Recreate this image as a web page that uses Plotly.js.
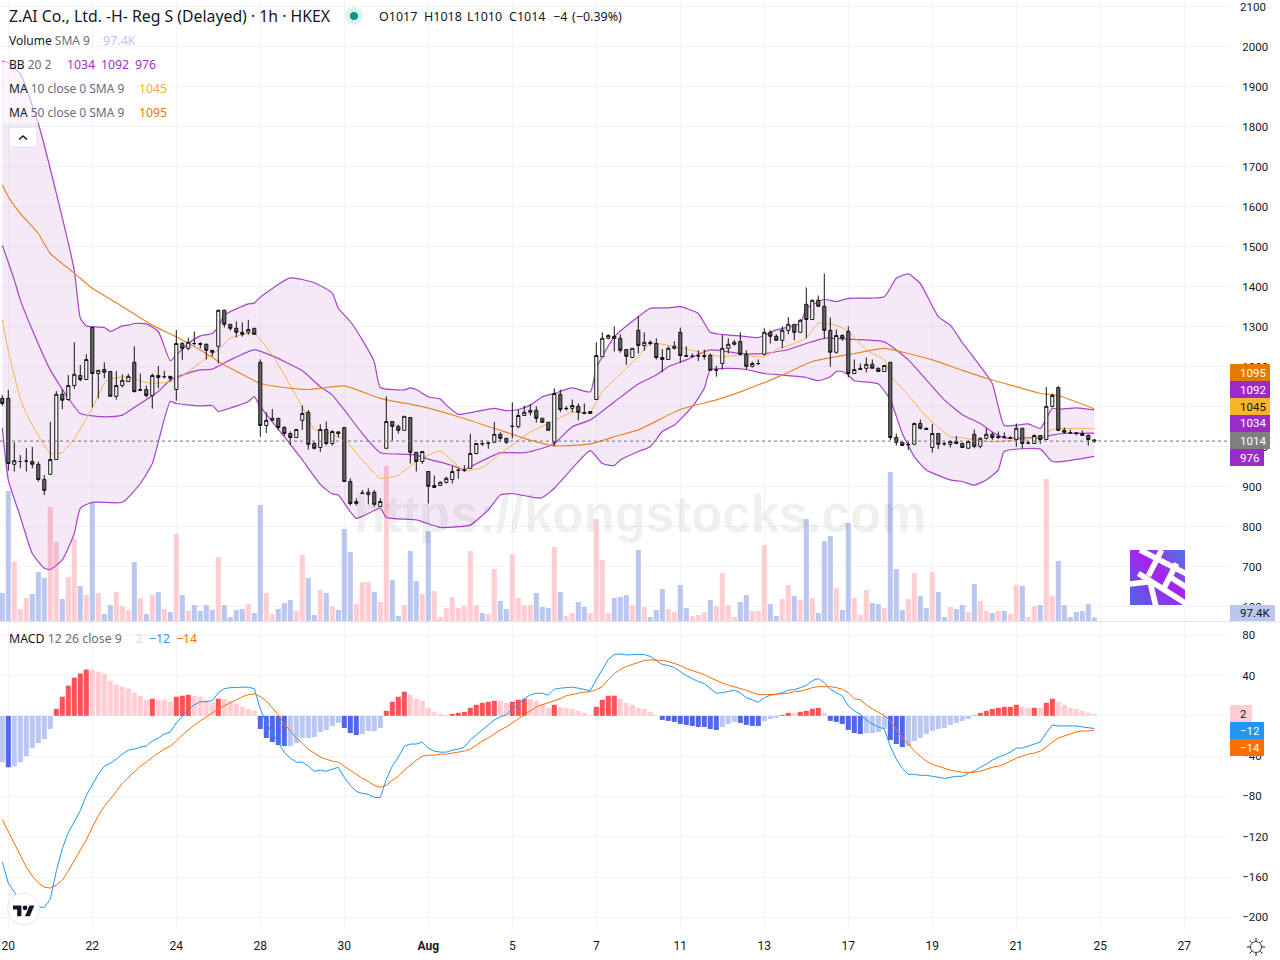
<!DOCTYPE html>
<html><head><meta charset="utf-8">
<script src="https://cdn.plot.ly/plotly-3.0.1.min.js"></script>
<style>html,body{margin:0;padding:0;background:#fff}#c{width:1280px;height:960px}</style>
</head><body><div id="c"></div>
<script>
const open_=[1121,1121,956,963,964,963,956,918,931,968,
1131,1118,1153,1178,1168,1298,1183,1193,1188,1126,
1153,1163,1211,1143,1143,1128,1178,1175,1176,1143,
1258,1246,1258,1258,1256,1241,1251,1341,1306,1296,
1286,1286,1296,1211,1053,1066,1071,1048,1033,1023,
1066,1086,1008,998,1043,1008,1037,1048,913,858,
883,880,886,850,996,1063,1051,1041,1073,986,
963,938,898,903,911,918,941,941,946,983,
1008,1009,1011,1031,1021,1051,1050,1078,1086,1091,
1071,1061,1011,1131,1096,1096,1101,1085,1083,1118,
1225,1271,1276,1271,1243,1223,1291,1253,1261,1258,
1223,1218,1246,1286,1228,1226,1227,1228,1228,1192,
1208,1246,1256,1263,1231,1201,1208,1231,1286,1276,
1266,1291,1306,1286,1356,1318,1366,1351,1291,1236,
1278,1288,1183,1196,1196,1206,1196,1188,1211,1023,
1011,1006,1006,1058,1046,998,1033,1007,1006,1013,
1008,996,1031,1001,1021,1031,1026,1025,1022,1018,
1046,1009,1008,1028,1018,1101,1148,1041,1035,1035,
1033,1028,1017];
const high=[1129,1142,1011,979,996,999,963,929,1062,1139,
1143,1179,1261,1204,1231,1298,1191,1211,1188,1189,
1181,1182,1251,1183,1153,1183,1202,1190,1176,1292,
1262,1272,1288,1261,1258,1241,1343,1343,1306,1313,
1311,1317,1296,1218,1086,1094,1071,1052,1038,1043,
1103,1092,1012,1056,1063,1041,1038,1048,921,871,
892,896,892,871,1126,1063,1055,1076,1073,986,
988,938,928,913,925,952,945,954,1032,1008,
1017,1011,1062,1036,1021,1111,1093,1103,1106,1101,
1071,1061,1146,1143,1101,1118,1108,1108,1088,1261,
1286,1281,1301,1281,1243,1246,1326,1286,1266,1271,
1244,1251,1264,1298,1251,1233,1241,1243,1233,1202,
1279,1271,1267,1286,1241,1213,1218,1296,1291,1281,
1301,1324,1306,1319,1398,1368,1378,1433,1323,1293,
1281,1301,1218,1208,1223,1218,1198,1203,1211,1033,
1011,1013,1061,1068,1048,1057,1033,1013,1017,1027,
1010,1016,1043,1023,1046,1036,1038,1036,1027,1058,
1046,1014,1031,1028,1149,1133,1151,1048,1043,1036,
1041,1031,1018];
const low=[1102,940,938,946,938,946,913,879,931,968,
1094,1115,1145,1163,1168,1098,1121,1171,1126,1118,
1148,1163,1135,1140,1123,1095,1146,1171,1163,1115,
1217,1241,1253,1246,1218,1226,1208,1298,1290,1273,
1275,1280,1281,1025,1034,1066,1042,1027,1004,1023,
1042,993,993,987,1003,1003,1023,913,853,853,
883,856,850,850,996,1015,1033,1041,958,938,
957,858,898,903,908,908,920,937,946,981,
1002,995,1011,1012,1007,1021,1046,1078,1078,1060,
1061,1041,1001,1086,1091,1086,1066,1081,1083,1118,
1225,1268,1238,1235,1205,1223,1233,1240,1253,1218,
1186,1218,1243,1210,1226,1223,1214,1218,1191,1175,
1193,1233,1253,1228,1193,1198,1204,1228,1258,1266,
1246,1281,1266,1286,1271,1318,1351,1271,1200,1233,
1265,1173,1183,1192,1186,1196,1188,1188,1017,1003,
1003,992,1006,1043,1043,985,994,1003,998,1006,
997,996,996,996,1018,1017,1019,1021,1019,1000,
995,1008,1007,1007,1018,1098,1039,1032,1032,1028,
1028,1003,1010];
const close_=[1108,958,965,963,964,956,918,891,968,1131,
1116,1153,1181,1168,1218,1183,1191,1186,1126,1153,
1166,1176,1138,1141,1128,1178,1173,1175,1171,1258,
1246,1261,1258,1256,1241,1236,1341,1306,1296,1286,
1281,1293,1281,1053,1066,1071,1048,1033,1023,1043,
1083,1006,996,1043,1008,1038,1033,913,858,863,
884,886,856,863,1063,1051,1041,1076,986,963,
988,901,903,911,921,938,941,941,983,1008,
1007,1009,1031,1021,1011,1051,1078,1086,1091,1071,
1061,1041,1133,1093,1095,1103,1086,1083,1088,1228,
1271,1278,1271,1241,1226,1246,1253,1261,1258,1223,
1218,1246,1251,1228,1226,1226,1227,1226,1191,1191,
1246,1256,1261,1231,1201,1208,1208,1286,1276,1266,
1291,1306,1286,1316,1318,1366,1351,1291,1236,1278,
1271,1183,1193,1193,1206,1196,1188,1203,1023,1011,
1003,1005,1058,1046,1043,1033,1006,1007,1013,1008,
998,1013,1001,1021,1031,1023,1023,1024,1021,1046,
1008,1009,1028,1018,1101,1128,1041,1036,1035,1033,
1028,1018,1014];
const volumeK=[756,3510,1593,324,621,729,1323,1161,3078,2133,
594,1188,2214,945,702,3213,756,189,432,783,
405,297,1593,621,189,702,783,324,243,2349,
702,270,432,270,432,297,1728,432,108,297,
324,459,216,3132,756,189,324,486,567,270,
1782,1161,162,837,756,405,297,2484,1863,459,
1053,1053,783,513,4185,1107,135,432,1890,1080,
729,2430,810,108,351,648,351,405,1890,432,
216,189,1404,540,324,1809,621,432,432,756,
378,351,1998,783,135,216,513,378,216,2754,
1647,216,621,648,702,432,1917,378,108,297,
864,324,243,972,351,135,162,243,567,405,
1296,432,108,513,702,270,270,2052,459,135,
594,972,675,567,2754,621,216,2160,2295,891,
297,2646,621,162,837,486,459,351,4023,1404,
297,594,1296,675,351,1323,783,108,378,324,
432,243,999,540,270,216,270,270,189,972,
945,108,405,432,3834,675,1620,432,108,243,
270,459,97.4];
const volumeSide="dduuuddduu"+"duudududdu"+"uududududu"+"dudddduddd"+"dudduudddu"+"uddududddu"+"uuduuddudd"+"uduuuuuuuu"+"duudduuuud"+"dduduudduu"+"uudddududd"+"duudduuudu"+"uuudduuudd"+"uudududddu"+"dduuuddudd"+"duudduddud"+"duduududuu"+"duuduudddd"+"ddd";
const macdHist=[-46,-51,-50,-46,-40,-32,-27,-23,-13,7,
19,30,38,42,46,46,44,42,35,31,
29,27,23,20,16,17,16,16,14,19,
20,21,20,19,16,13,17,17,15,12,
9,7,5,-13,-22,-26,-29,-30,-30,-27,
-22,-22,-21,-16,-14,-10,-7,-12,-17,-19,
-18,-15,-15,-12,5,14,19,24,21,17,
15,8,4,2,1,2,3,4,8,11,
13,14,15,15,13,14,16,17,17,15,
12,8,11,9,8,7,5,3,1,9,
16,20,20,17,13,11,8,7,4,0.5,
-4,-5,-6,-8,-9,-10,-11,-11,-13,-14,
-11,-8,-6,-7,-9,-10,-10,-5,-3,-2,
1,3,3,4,5,7,8,3,-5,-6,
-8,-14,-17,-18,-17,-17,-16,-13,-24,-28,
-31,-30,-25,-22,-18,-15,-13,-12,-9,-7,
-5,-3,0.5,3,5,7,8,9,9,11,
9,8,8,8,13,17,14,11,8,7,
5,3,2];
const histRuns=[["L",1],["B",1],["L",7],["R",6],["P",10],["R",1],["P",3],["R",3],["P",4],["R",1],["P",6],["B",5],["L",9],["B",3],["L",4],["R",4],["P",7],["R",8],["P",2],["R",3],["P",4],["R",1],["P",6],["R",4],["P",7],["B",10],["L",3],["B",4],["L",3],["R",2],["P",1],["R",4],["P",1],["B",6],["L",4],["B",3],["L",11],["R",8],["P",2],["R",1],["P",1],["R",2],["P",7]];
const macdLine=[-145,-166,-175,-184,-188,-189,-190,-190,-182,-154,
-132,-116,-105,-94,-79,-68,-58,-50,-47,-43,
-38,-34,-33,-31,-30,-25,-22,-18,-16,-7,
0,6,11,14,14,15,23,27,28,28.5,
28.5,28.5,27,7,-7,-17,-26,-36,-42,-46,
-46,-50,-55,-54,-55,-53,-51,-61,-69,-75,
-77,-78,-81,-81,-63,-50,-41,-30,-28,-28,
-26,-32,-35,-36,-36,-34,-33,-31,-24,-19,
-14,-9,-4,-1,1,7,11,17,21,22.5,
22.5,20.5,26.5,27.5,28,28.5,27.5,26,25,36,
46,56,61,61.5,60.5,61,61,61,59,55,
51,50,48,44,40,37,34,32,27,22.5,
23,24,25.5,23,18,16,13.5,18,20.5,21.5,
23,25.5,26,28,30,35,37,33,26.5,23,
20,10,5,1.5,-4,-8,-11,-13,-30,-43,
-52,-58,-58,-59,-59,-60,-61,-62,-61,-60,
-60,-57,-55,-51,-48,-44,-41,-39,-36,-32,
-32,-30,-28,-26,-17,-9,-10,-10,-10,-10,
-11,-12,-12.5];
const signalLine=[-103,-115,-127,-139,-150,-159,-166,-170,-171,-168,
-163,-154,-144,-133,-123,-111,-99,-90,-83,-75,
-67,-61,-55,-50,-46,-41,-37,-33,-30,-25,
-19,-14,-9,-5,-1,3,7,10,13,16,
19,21,22,19,15,8,1,-8,-15,-22,
-27,-33,-37,-41,-43,-45,-46,-50,-54,-58,
-62,-65,-69,-71,-69,-64,-60,-54,-49,-44,
-40,-39,-39,-38,-38,-37,-36,-35,-33,-29,
-25,-22,-18,-14,-11,-7,-3,0.7,5,9,
11,13,15,17,20,21.5,22.5,23.5,24,26,
29,36,42,46,49,51,53,55,55.5,55.5,
55,54,52,50,47,45,43,41,38,35,
32.5,30.5,29,27.5,25.5,23,21.5,21,21,21.5,
22,22.5,24,24.5,26,28,29,29,29,28,
26.5,23,17,16,11,7,4,0.3,-5,-13,
-22,-28,-35,-40,-45,-48,-50,-52,-54,-55,
-56,-56,-56,-55,-53,-51,-50,-48,-45,-42,
-40,-38,-37,-35,-31,-26,-22,-20,-18,-16,
-15,-15,-14];
const bbUpperPts=[[0,1964],[1,1960],[3,1932],[6,1808],[9,1634],[12,1441],[13,1322],[14,1302],[15,1300],[17,1298],[18,1288],[20,1302],[21,1304],[22,1308],[24,1307],[26,1288],[28,1215],[29,1229],[31,1258],[33,1277],[35,1283],[36,1300],[37,1329],[41,1357],[42,1359],[43,1374],[48,1422],[52,1410],[55,1384],[56,1346],[58,1313],[60,1267],[62,1212],[63,1148],[67,1142],[68,1147],[69,1143],[71,1125],[73,1119],[74,1104],[76,1081],[78,1085],[82,1096],[84,1090],[86,1093],[88,1104],[90,1125],[92,1133],[95,1147],[98,1137],[99,1196],[102,1275],[106,1325],[108,1346],[111,1347],[113,1350],[116,1333],[118,1286],[121,1279],[123,1277],[126,1273],[129,1292],[133,1308],[134,1346],[137,1368],[139,1363],[141,1371],[147,1375],[149,1421],[151,1432],[153,1408],[156,1325],[158,1304],[160,1260],[162,1221],[165,1158],[166,1100],[167,1053],[171,1057],[173,1046],[175,1096],[176,1094],[179,1097],[182,1092]];
const bbBasisPts=[[0,1504],[2,1417],[3,1367],[5,1292],[8,1192],[11,1121],[13,1083],[15,1077],[18,1075],[20,1079],[23,1108],[26,1138],[28,1167],[30,1179],[33,1192],[35,1194],[38,1217],[42,1242],[45,1227],[50,1190],[53,1150],[55,1129],[57,1092],[60,1033],[63,985],[67,981],[69,979],[71,969],[75,953],[77,942],[78,950],[82,979],[83,985],[87,985],[90,996],[92,1008],[95,1050],[98,1067],[102,1112],[106,1157],[109,1179],[111,1200],[114,1217],[118,1242],[123,1233],[127,1233],[131,1243],[134,1258],[137,1271],[142,1268],[147,1262],[151,1217],[154,1167],[157,1117],[160,1080],[163,1058],[165,1037],[167,1022],[171,1022],[173,1022],[175,1029],[177,1033],[182,1034]];
const bbLowerPts=[[0,1047],[1,917],[3,825],[5,733],[7,696],[8,693],[10,717],[12,783],[13,846],[15,861],[20,861],[23,908],[25,958],[28,1113],[29,1108],[33,1102],[35,1103],[36,1088],[37,1092],[41,1113],[42,1125],[43,1100],[47,1025],[50,967],[53,906],[55,882],[56,879],[59,821],[63,846],[64,823],[69,817],[73,798],[76,800],[78,804],[81,842],[83,879],[85,883],[89,872],[90,873],[92,896],[95,946],[98,990],[100,958],[102,953],[103,967],[106,988],[108,1000],[110,1038],[112,1054],[115,1100],[117,1146],[118,1192],[121,1196],[124,1193],[127,1183],[130,1179],[134,1173],[136,1165],[138,1175],[139,1188],[140,1188],[141,1179],[142,1165],[146,1157],[148,1117],[150,1033],[152,975],[154,942],[158,917],[160,913],[162,904],[164,917],[166,942],[167,988],[173,994],[175,963],[182,976]];
const ma10Pts=[[0,1317],[1,1240],[3,1121],[4,1083],[8,983],[10,985],[12,1021],[15,1096],[17,1158],[18,1169],[21,1175],[24,1160],[27,1160],[29,1167],[31,1188],[34,1221],[36,1242],[38,1271],[42,1283],[45,1229],[47,1179],[50,1100],[52,1043],[53,1042],[57,1017],[60,967],[63,921],[66,929],[69,963],[71,979],[73,989],[77,940],[80,948],[83,983],[85,1004],[88,1037],[91,1058],[95,1086],[98,1087],[100,1137],[102,1167],[106,1225],[108,1258],[113,1248],[116,1237],[120,1225],[123,1229],[127,1225],[129,1242],[132,1258],[134,1273],[136,1308],[139,1304],[141,1288],[144,1242],[147,1217],[148,1179],[151,1129],[154,1075],[158,1025],[160,1022],[162,1017],[165,1012],[173,1025],[175,1043],[179,1046],[182,1045]];
const ma50Pts=[[0,1654],[1,1625],[3,1583],[6,1533],[8,1483],[12,1434],[15,1396],[19,1360],[25,1304],[29,1275],[33,1242],[37,1204],[41,1173],[43,1158],[47,1148],[51,1143],[53,1146],[57,1152],[63,1121],[70,1100],[76,1075],[82,1046],[87,1021],[92,1002],[98,1007],[102,1025],[106,1042],[113,1093],[119,1117],[123,1137],[130,1179],[135,1213],[142,1233],[147,1246],[151,1233],[155,1217],[160,1191],[164,1171],[169,1150],[173,1133],[176,1128],[182,1095]];
const dayTickAt=[1,15,29,43,57,71,85,99,113,127,141,155,169,183,197];
const dayTickText=["20","22","24","28","30","<b>Aug</b>","5","7","11","13","17","19","21","25","27"];
const priceTicks=[600,700,800,900,1000,1100,1200,1300,1400,1500,1600,1700,1800,1900,2000,2100];
const macdTicks=[80,40,0,-40,-80,-120,-160,-200];
const lastPrice=1014;

const FONT='"Noto Sans", sans-serif', AXFONT='Roboto, sans-serif', INK='#131722', GRID='#f0f3fa';
const W=1230,H=930;
const px=x=>x/W, py=y=>(H-y)/H;
const idx=Array.from(open_.keys());
const histStyle=histRuns.map(([s,n])=>s.repeat(n)).join("");
const histColor={R:'#ff5252',P:'#ffcdd2',B:'#4f67eb',L:'#b9c7f1'};
const volColor={u:'#ffcdd2',d:'#b9c7f1'};
const xs=a=>a.map(p=>p[0]), ys=a=>a.map(p=>p[1]);
const RANGE_X=[-0.383,204.617], RANGE_P=[564.25,2116.75];
const lineT=(pts,color,w,extra)=>Object.assign({type:'scatter',mode:'lines',x:xs(pts),y:ys(pts),xaxis:'x',yaxis:'y2',line:{color,width:w,shape:'spline',smoothing:0.5},hoverinfo:'skip',showlegend:false},extra||{});

const traces=[
 {type:'bar',x:idx,y:volumeK,xaxis:'x',yaxis:'y',marker:{color:idx.map(i=>volColor[volumeSide[i]]),line:{width:0}},hoverinfo:'skip',showlegend:false},
 lineT(bbLowerPts,'#a742c9',1.2),
 lineT(bbUpperPts,'#a742c9',1.2,{fill:'tonexty',fillcolor:'rgba(156,39,176,0.1)'}),
 lineT(bbBasisPts,'#a742c9',1.2),
 lineT(ma10Pts,'#f9b54c',1),
 lineT(ma50Pts,'#e8872a',1.2),
 {type:'candlestick',x:idx,open:open_,high:high,low:low,close:close_,xaxis:'x',yaxis:'y3',
  increasing:{line:{color:'#131313',width:1},fillcolor:'#ffffff'},
  decreasing:{line:{color:'#131313',width:1},fillcolor:'#666666'},
  hoverinfo:'skip',showlegend:false},
 {type:'bar',x:idx,y:macdHist,xaxis:'x2',yaxis:'y4',marker:{color:idx.map(i=>histColor[histStyle[i]]),line:{width:0}},hoverinfo:'skip',showlegend:false},
 {type:'scatter',mode:'lines',x:idx,y:macdLine,xaxis:'x2',yaxis:'y4',line:{color:'#2196f3',width:1},hoverinfo:'skip',showlegend:false},
 {type:'scatter',mode:'lines',x:idx,y:signalLine,xaxis:'x2',yaxis:'y4',line:{color:'#ff6d00',width:1},hoverinfo:'skip',showlegend:false}
];

const txt=(text,x,y,size,color,extra)=>Object.assign({text,xref:'paper',yref:'paper',x:px(x),y:py(y),xanchor:'left',yanchor:'middle',showarrow:false,font:{family:FONT,size,color},borderpad:0,borderwidth:0},extra||{});
const grey=s=>`<span style="color:#6a6d78">${s}</span>`, col=(s,c)=>`<span style="color:${c}">${s}</span>`;
const annotations=[
 txt('Z.AI Co., Ltd. -H- Reg S (Delayed) · 1h · HKEX',9,16.5,15.8,INK),
 txt('O1017',379,16.5,12.5,INK),txt('H1018',424,16.5,12.5,INK),txt('L1010',467,16.5,12.5,INK),txt('C1014',509,16.5,12.5,INK),txt('−4',553,16.5,12.5,INK),txt('(−0.39%)',572,16.5,12.5,INK),
 txt('Volume '+grey('SMA 9'),9,40.5,12,INK),
 txt('97.4K',103,40.5,12.5,'#b9c7f1'),
 txt('BB '+grey('20 2'),9,64.5,12,INK),
 txt(col('1034','#a12fd1'),67,64.5,12.3,INK),
 txt(col('1092','#a12fd1'),101,64.5,12.3,INK),
 txt(col('976','#a12fd1'),135,64.5,12.3,INK),
 txt('MA '+grey('10 close 0 SMA 9'),9,88.5,12,INK),
 txt('1045',139,88.5,12.3,'#f9b12a'),
 txt('MA '+grey('50 close 0 SMA 9'),9,112.5,12,INK),
 txt('1095',139,112.5,12.3,'#e57a00'),
 txt('MACD '+grey('12 26 close 9'),9,638.5,12.3,INK),
 txt('2',136,638.5,12.3,'#ffcdd2'),
 txt('−12',149,638.5,12.3,'#2196f3'),
 txt('−14',176,638.5,12.3,'#ff6d00'),
 txt('2100',1240,7,11.5,INK,{font:{family:AXFONT,size:11.5,color:INK}}),
 txt('https://kongstocks.com',640,514,51,'rgba(0,0,0,0.06)',{xanchor:'center',font:{family:'"Liberation Sans"',size:51,color:'rgba(0,0,0,0.06)',weight:700}})
];
const tagShapes=[];
const tag=(text,x0,x1,y0,y1,bg,fg)=>{
 tagShapes.push({type:'rect',xref:'paper',yref:'paper',x0:px(x0),x1:px(x1),y0:py(y0),y1:py(y1),fillcolor:bg,line:{width:0},layer:'above'});
 annotations.push(txt(text,1240,(y0+y1)/2,11.5,fg,{font:{family:AXFONT,size:11.5,color:fg}}));
};
tag('1095',1230,1270,364,381,'#e57a00','#fff');
tag('1092',1230,1270,381,398,'#9c2ac9','#fff');
tag('1045',1230,1270,398,415,'#f9b42d','#131722');
tag('1034',1230,1270,415,432,'#9c2ac9','#fff');
tag('1014',1230,1270,432,449,'#7f7f7f','#fff');
tag('976',1230,1264,449,466,'#9c2ac9','#fff');
tag('97.4K',1230,1275,605,621,'#b9c7f1','#131722');
tag('2',1230,1252,705,722,'#ffcdd2','#131722');
tag('−12',1230,1264,722,739,'#2196f3','#fff');
tag('−14',1230,1264,739,756,'#ff6d00','#fff');

const shapes=[
 {type:'rect',xref:'paper',yref:'paper',x0:px(4),x1:px(172),y0:py(50),y1:py(123),fillcolor:'rgba(255,255,255,0.6)',line:{width:0},layer:'above'},
 {type:'line',xref:'paper',yref:'y3',x0:0,x1:px(1230),y0:lastPrice,y1:lastPrice,line:{color:'#6d6f76',width:1,dash:'dot'},layer:'above'},
 {type:'line',xref:'paper',yref:'paper',x0:0,x1:px(1280),y0:py(621.5),y1:py(621.5),line:{color:'#e0e3eb',width:1},layer:'above'},
 {type:'circle',xref:'paper',yref:'paper',x0:px(345),x1:px(363),y0:py(7),y1:py(25),fillcolor:'rgba(8,153,129,0.13)',line:{width:0},layer:'above'},
 {type:'circle',xref:'paper',yref:'paper',x0:px(350),x1:px(358),y0:py(12),y1:py(20),fillcolor:'#089981',line:{width:0},layer:'above'}
].concat(tagShapes);

const svg=s=>'data:image/svg+xml;utf8,'+encodeURIComponent(s);
const img=(s,x,y,w,h)=>({source:svg(s),xref:'paper',yref:'paper',x:px(x),y:py(y),sizex:w/W,sizey:h/H,xanchor:'left',yanchor:'top',sizing:'stretch',layer:'above'});
const tvLogo=`<svg xmlns="http://www.w3.org/2000/svg" width="36" height="36" viewBox="0 0 36 36"><circle cx="18" cy="18" r="16" fill="#fff" stroke="#e6e7ea" stroke-width="1"/><g transform="translate(7.5,12) scale(0.6)" fill="#131722"><path d="M14 22H7V11H0V4h14v18zM28 22h-8l7.5-18h8L28 22z"/><circle cx="20" cy="8" r="4"/></g></svg>`;
const chevron=`<svg xmlns="http://www.w3.org/2000/svg" width="30" height="22" viewBox="0 0 30 22"><rect x="1" y="1" width="28" height="20" rx="3" fill="#fff" stroke="#e0e3eb"/><path d="M11 13.5l4-3.5 4 3.5" fill="none" stroke="#131722" stroke-width="1.6"/></svg>`;
const gear=`<svg xmlns="http://www.w3.org/2000/svg" width="20" height="20" viewBox="0 0 20 20"><circle cx="10" cy="10" r="5.5" fill="none" stroke="#3b3e48" stroke-width="1"/><path d="M10 1v3M10 16v3M1 10h3M16 10h3M3.6 3.6l2.1 2.1M14.3 14.3l2.1 2.1M3.6 16.4l2.1-2.1M14.3 5.7l2.1-2.1" stroke="#131722" stroke-width="1"/></svg>`;
const logo=`<svg xmlns="http://www.w3.org/2000/svg" width="55" height="55" viewBox="0 0 165 165"><defs><linearGradient id="g" x1="1" y1="0" x2="0" y2="1"><stop offset="0" stop-color="#4a7be0"/><stop offset="0.45" stop-color="#a722ec"/><stop offset="1" stop-color="#4a68e6"/></linearGradient></defs><rect width="165" height="165" fill="url(#g)"/><g stroke="#fff" stroke-width="17" fill="none"><path d="M30 0L170 72M25 70L170 162M0 102L60 95L78 170"/><path d="M95 0L55 78M140 40L100 118M122 82L170 112"/></g></svg>`;
const images=[img(tvLogo,5.5,891,36,36),img(chevron,8,126,30,22),img(gear,1246,937,20,20),img(logo,1130,550,55,55)];

const axBase={showline:false,zeroline:false,fixedrange:true};
const layout={
 width:1280,height:960,margin:{l:0,r:50,t:0,b:30,pad:0},paper_bgcolor:'#fff',plot_bgcolor:'#fff',
 showlegend:false,barmode:'overlay',bargap:0.16,boxgap:0.26,
 font:{family:FONT,size:12,color:INK},
 xaxis:Object.assign({},axBase,{domain:[0,1],range:RANGE_X,anchor:'y3',tickmode:'array',tickvals:dayTickAt,ticktext:dayTickText,showticklabels:false,ticks:'',showgrid:true,gridcolor:GRID,gridwidth:1,rangeslider:{visible:false}}),
 yaxis:Object.assign({},axBase,{domain:[309/930,1],range:[0,16767],visible:false}),
 yaxis2:Object.assign({},axBase,{overlaying:'y',range:RANGE_P,visible:false}),
 yaxis3:Object.assign({},axBase,{overlaying:'y',anchor:'x',side:'right',range:RANGE_P,tickmode:'array',tickvals:priceTicks,ticktext:priceTicks.map(String),ticks:'outside',ticklen:9,tickcolor:'rgba(0,0,0,0)',showgrid:true,gridcolor:GRID,gridwidth:1,tickfont:{family:AXFONT,size:11.5,color:INK}}),
 xaxis2:Object.assign({},axBase,{domain:[0,1],range:RANGE_X,anchor:'y4',tickmode:'array',tickvals:dayTickAt,ticktext:dayTickText,ticks:'outside',ticklen:5,tickcolor:'rgba(0,0,0,0)',showgrid:true,gridcolor:GRID,gridwidth:1,tickfont:{family:AXFONT,size:12,color:INK}}),
 yaxis4:Object.assign({},axBase,{domain:[0,308/930],anchor:'x2',side:'right',range:[-212.6,93.2],tickmode:'array',tickvals:macdTicks,ticks:'outside',ticklen:9,tickcolor:'rgba(0,0,0,0)',showgrid:true,gridcolor:GRID,gridwidth:1,tickfont:{family:AXFONT,size:11.5,color:INK}}),
 annotations,shapes,images
};
Plotly.newPlot('c',traces,layout,{staticPlot:true,displayModeBar:false});
</script></body></html>
